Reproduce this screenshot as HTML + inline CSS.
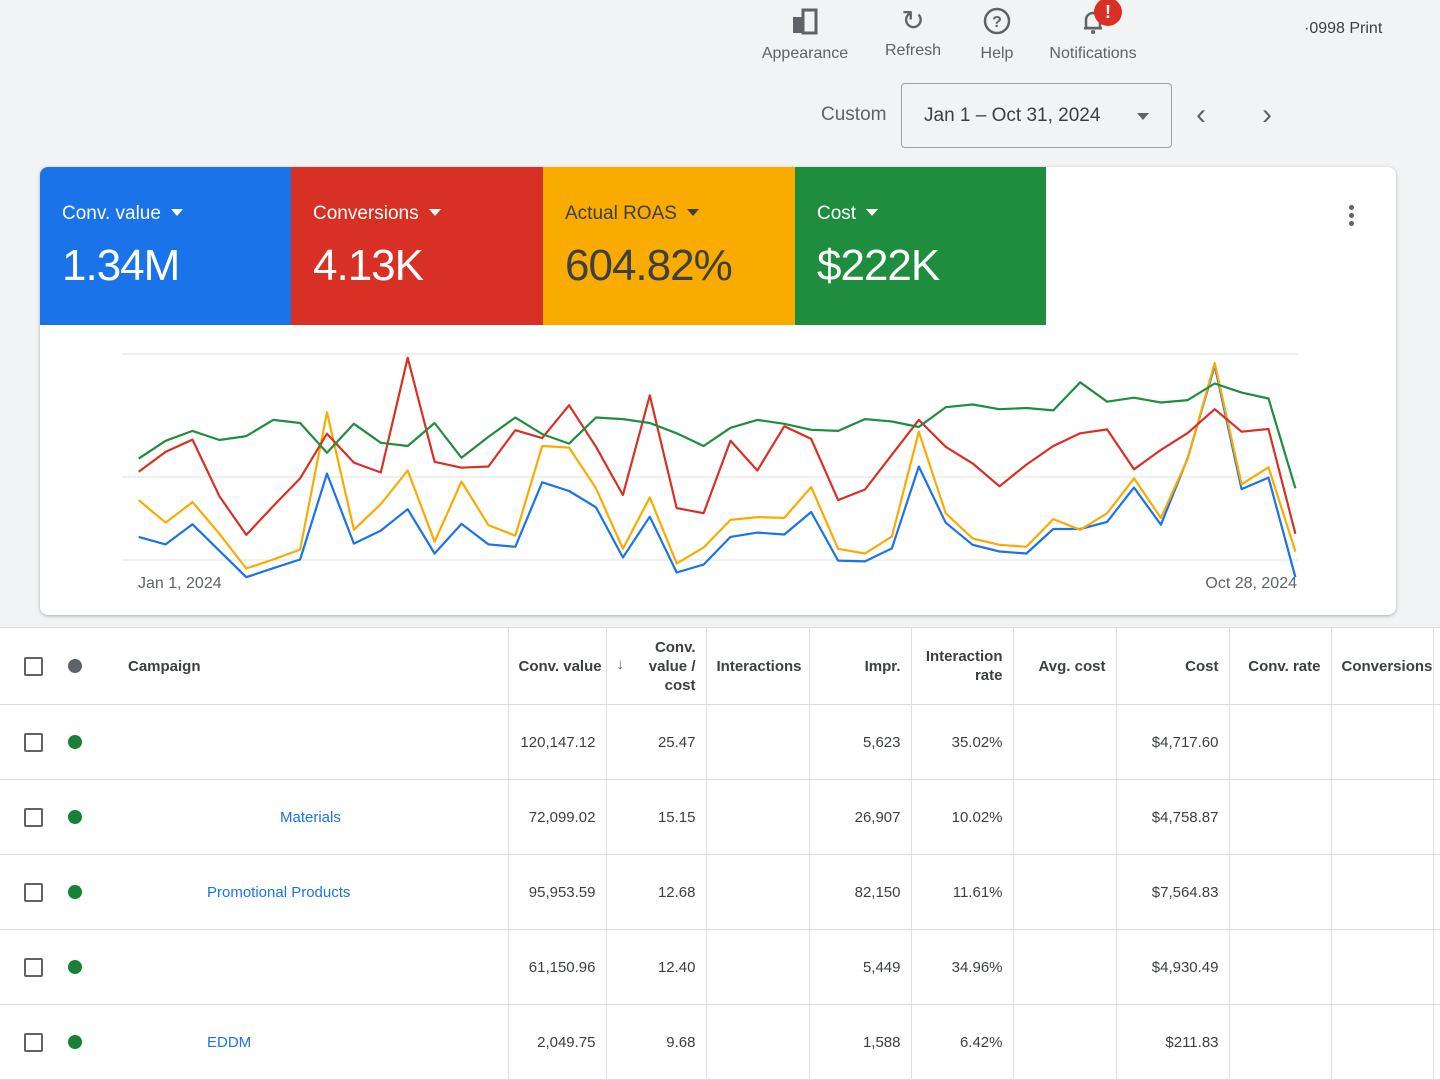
<!DOCTYPE html>
<html><head><meta charset="utf-8">
<style>
*{margin:0;padding:0;box-sizing:border-box}
body{width:1440px;height:1080px;overflow:hidden;background:#f1f3f4;font-family:"Liberation Sans",sans-serif;position:relative;color:#3c4043}
.abs{position:absolute}
.tb{font-size:16px;color:#5f6368;text-align:center}
.tile{position:absolute;top:167px;height:158px;width:252px;color:#fff}
.tile .l{position:absolute;left:22px;top:36px;font-size:19px}
.tile .v{position:absolute;left:22px;top:74px;font-size:44px;letter-spacing:-1px}
.tri{display:inline-block;width:0;height:0;border-left:6px solid transparent;border-right:6px solid transparent;border-top:7px solid currentColor;margin-left:10px;vertical-align:3px}
table{position:absolute;left:0;top:627px;border-collapse:collapse;background:#fff;width:1440px;font-size:15px;color:#3c4043;table-layout:fixed}
td,th{border-bottom:1px solid #dadce0;border-right:1px solid #e0e0e0;text-align:right;padding:0 10px;height:75px;white-space:nowrap;overflow:hidden}
th{font-weight:bold;font-size:15px;height:77px;color:#3c4043}
td.n,th.n{border-right:none}
.cb{display:inline-block;width:19px;height:19px;border:2px solid #5f6368;border-radius:2px}
.dot{display:inline-block;width:14px;height:14px;border-radius:50%;background:#188038}
a{color:#1a73e8;text-decoration:none}
</style></head><body>
<div class="abs tb" style="left:755px;top:6px;width:100px">
<svg width="30" height="30" viewBox="0 0 30 30"><rect x="3" y="11" width="10" height="16" fill="#5f6368"/><rect x="13" y="4" width="13" height="23" fill="none" stroke="#5f6368" stroke-width="3"/></svg><br><span style="position:relative;top:4px">Appearance</span></div>
<div class="abs tb" style="left:878px;top:6px;width:70px"><span style="font-size:28px;line-height:30px">&#x21bb;</span><br><span style="position:relative;top:6px">Refresh</span></div>
<div class="abs tb" style="left:972px;top:6px;width:50px"><svg width="30" height="30"><circle cx="15" cy="15" r="12" fill="none" stroke="#5f6368" stroke-width="2.5"/><text x="15" y="21" font-size="16" font-weight="bold" text-anchor="middle" fill="#5f6368" font-family="Liberation Sans">?</text></svg><br><span style="position:relative;top:4px">Help</span></div>
<div class="abs tb" style="left:1040px;top:6px;width:106px"><svg width="30" height="30"><path d="M8 22 V14 a7 7 0 0 1 14 0 V22 Z" fill="none" stroke="#5f6368" stroke-width="2.5"/><rect x="6" y="21" width="18" height="2.5" fill="#5f6368"/><circle cx="15" cy="26" r="2" fill="#5f6368"/></svg><br><span style="position:relative;top:4px">Notifications</span></div>
<div class="abs" style="left:1094px;top:-2px;width:28px;height:28px;border-radius:50%;background:#d93025;color:#fff;font-weight:bold;text-align:center;font-size:18px;line-height:28px">!</div>
<div class="abs" style="left:1304px;top:20px;font-size:16px;color:#3c4043">·0998 Print</div>
<div class="abs" style="left:821px;top:104px;font-size:19px;color:#5f6368">Custom</div>
<div class="abs" style="left:901px;top:83px;width:271px;height:65px;border:1px solid #9aa0a6;border-radius:4px;background:#f1f3f4"><span style="position:absolute;left:22px;top:21px;font-size:19px;color:#3c4043">Jan 1 – Oct 31, 2024</span><span style="position:absolute;left:235px;top:29px;border-left:6px solid transparent;border-right:6px solid transparent;border-top:7px solid #5f6368"></span></div>
<div class="abs" style="left:1196px;top:98px;font-size:30px;color:#5f6368">&#x2039;</div>
<div class="abs" style="left:1262px;top:98px;font-size:30px;color:#5f6368">&#x203a;</div>

<div class="abs" style="left:40px;top:167px;width:1356px;height:448px;background:#fff;border-radius:8px;box-shadow:0 1px 3px rgba(0,0,0,.3);overflow:hidden"></div>
<div class="tile" style="left:40px;background:#1a73e8;border-top-left-radius:8px"><div class="l">Conv. value<span class="tri"></span></div><div class="v">1.34M</div></div>
<div class="tile" style="left:291px;background:#d93025"><div class="l">Conversions<span class="tri"></span></div><div class="v">4.13K</div></div>
<div class="tile" style="left:543px;background:#f9ab00;color:#3c4043"><div class="l">Actual ROAS<span class="tri"></span></div><div class="v">604.82%</div></div>
<div class="tile" style="left:795px;background:#1e8e3e;width:251px"><div class="l">Cost<span class="tri"></span></div><div class="v">$222K</div></div>
<div class="abs" style="left:1349px;top:205px;width:6px"><div style="width:5px;height:5px;border-radius:50%;background:#5f6368;margin-bottom:3px"></div><div style="width:5px;height:5px;border-radius:50%;background:#5f6368;margin-bottom:3px"></div><div style="width:5px;height:5px;border-radius:50%;background:#5f6368"></div></div>

<svg class="abs" style="left:0;top:0" width="1440" height="620" id="ch">
<line x1="122" y1="354" x2="1298" y2="354" stroke="#e0e0e0"/>
<line x1="122" y1="477" x2="1298" y2="477" stroke="#e0e0e0"/>
<line x1="122" y1="560" x2="1298" y2="560" stroke="#e0e0e0"/>
<text x="138" y="588" font-size="16" fill="#5f6368" font-family="Liberation Sans">Jan 1, 2024</text>
<text x="1297" y="588" font-size="16" fill="#5f6368" text-anchor="end" font-family="Liberation Sans">Oct 28, 2024</text>
</svg>
<script>
var G=[300,255,230,253,243,202,210,285,212,260,268,210,298,245,196,238,262,196,200,210,236,268,222,202,212,227,230,200,206,220,170,163,175,172,178,107,156,146,158,152,110,133,148,375];
var R=[333,283,252,395,493,420,350,237,310,335,45,308,323,320,228,248,165,270,392,140,425,438,255,330,218,250,405,378,290,202,270,312,370,315,268,236,226,327,278,235,175,232,225,490];
var Y=[405,462,410,490,578,555,530,183,480,415,330,510,358,468,495,268,272,375,528,398,565,525,455,448,450,372,528,540,497,232,438,502,518,523,453,480,438,350,450,300,58,365,322,535];
var B=[498,517,466,533,600,577,555,338,515,482,428,540,465,517,523,360,382,423,550,447,588,568,498,487,492,435,558,560,527,320,462,518,535,540,478,478,460,373,467,298,65,377,348,600];
function pts(a){return a.map(function(z,i){return (138.7+26.9*i).toFixed(1)+","+(340+z/2.529).toFixed(1)}).join(" ")}
var s="";[[B,"#1a73e8"],[Y,"#f9ab00"],[R,"#d93025"],[G,"#1e8e3e"]].forEach(function(p){s+='<polyline fill="none" stroke-width="2.2" stroke-linejoin="round" stroke="'+p[1]+'" points="'+pts(p[0])+'"/>'});
document.getElementById("ch").insertAdjacentHTML("beforeend",s);
</script>

<table>
<colgroup><col style="width:508px"><col style="width:98px"><col style="width:100px"><col style="width:103px"><col style="width:102px"><col style="width:102px"><col style="width:103px"><col style="width:113px"><col style="width:102px"><col style="width:102px"><col style="width:7px"></colgroup>
<tr style="border-top:1px solid #dadce0"><th style="text-align:left;padding:0 0 0 24px"><span class="cb" style="vertical-align:middle"></span><span class="dot" style="background:#5f6368;vertical-align:middle;margin-left:25px"></span><span style="vertical-align:middle;margin-left:46px">Campaign</span></th>
<th>Conv. value</th><th style="line-height:19px"><span style="float:left;margin-top:17px;color:#5f6368">&#x2193;</span>Conv.<br>value /<br>cost</th><th style="text-align:left;padding-left:10px">Interactions</th><th>Impr.</th><th style="line-height:19px">Interaction<br>rate</th><th>Avg. cost</th><th>Cost</th><th>Conv. rate</th><th style="text-align:left;padding:0 0 0 10px">Conversions</th><th class="n"></th></tr>
<tr><td style="text-align:left;padding-left:24px"><span class="cb" style="vertical-align:middle"></span><span class="dot" style="vertical-align:middle;margin-left:25px"></span></td><td>120,147.12</td><td>25.47</td><td></td><td>5,623</td><td>35.02%</td><td></td><td>$4,717.60</td><td></td><td></td><td class="n"></td></tr>
<tr><td style="text-align:left;padding-left:24px"><span class="cb" style="vertical-align:middle"></span><span class="dot" style="vertical-align:middle;margin-left:25px"></span><a style="vertical-align:middle;margin-left:198px">Materials</a></td><td>72,099.02</td><td>15.15</td><td></td><td>26,907</td><td>10.02%</td><td></td><td>$4,758.87</td><td></td><td></td><td class="n"></td></tr>
<tr><td style="text-align:left;padding-left:24px"><span class="cb" style="vertical-align:middle"></span><span class="dot" style="vertical-align:middle;margin-left:25px"></span><a style="vertical-align:middle;margin-left:125px">Promotional Products</a></td><td>95,953.59</td><td>12.68</td><td></td><td>82,150</td><td>11.61%</td><td></td><td>$7,564.83</td><td></td><td></td><td class="n"></td></tr>
<tr><td style="text-align:left;padding-left:24px"><span class="cb" style="vertical-align:middle"></span><span class="dot" style="vertical-align:middle;margin-left:25px"></span></td><td>61,150.96</td><td>12.40</td><td></td><td>5,449</td><td>34.96%</td><td></td><td>$4,930.49</td><td></td><td></td><td class="n"></td></tr>
<tr><td style="text-align:left;padding-left:24px"><span class="cb" style="vertical-align:middle"></span><span class="dot" style="vertical-align:middle;margin-left:25px"></span><a style="vertical-align:middle;margin-left:125px">EDDM</a></td><td>2,049.75</td><td>9.68</td><td></td><td>1,588</td><td>6.42%</td><td></td><td>$211.83</td><td></td><td></td><td class="n"></td></tr>
</table>
</body></html>
